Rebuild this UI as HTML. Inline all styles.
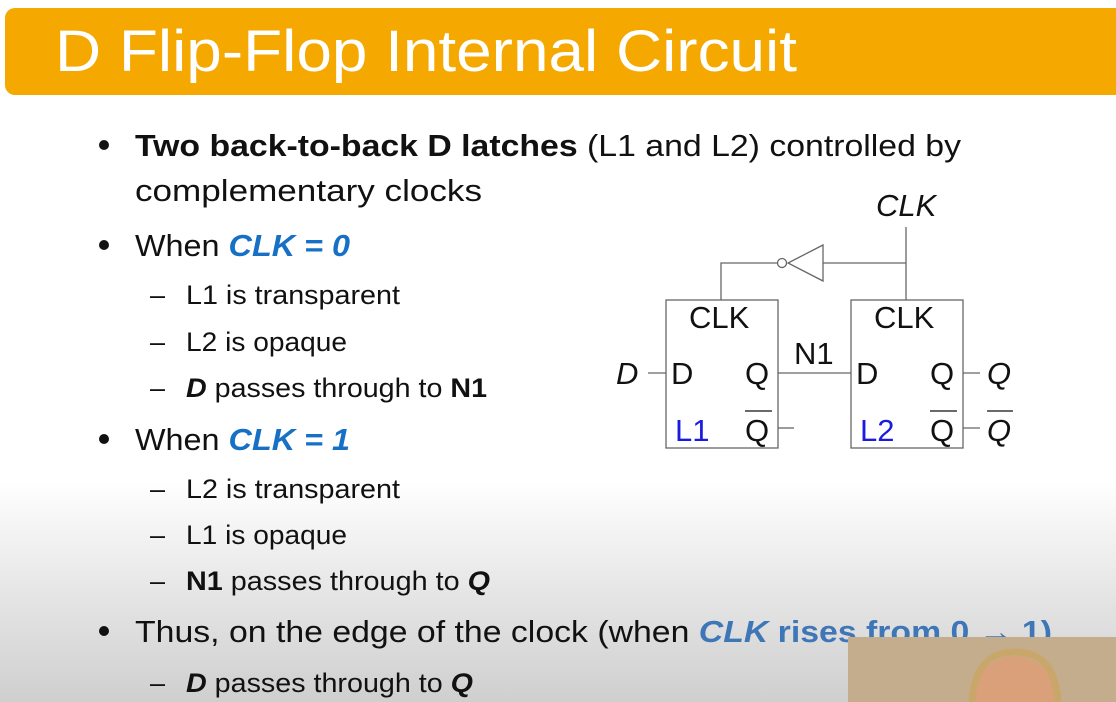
<!DOCTYPE html>
<html><head><meta charset="utf-8"><style>
html,body{margin:0;padding:0;width:1116px;height:702px;overflow:hidden}
body{background:linear-gradient(#fff 0px,#fff 480px,#e4e4e4 600px,#cfcfcf 702px)}
svg{position:absolute;left:0;top:0;display:block}
</style></head><body>
<svg width="1116" height="702" viewBox="0 0 1116 702" font-family="Liberation Sans, sans-serif">
<rect x="5" y="8" width="1125" height="87" rx="10" fill="#f5a800"/>
<text x="55" y="71" font-size="58" fill="#fff" textLength="742" lengthAdjust="spacingAndGlyphs">D Flip-Flop Internal Circuit</text>

<g font-size="31" fill="#111">
<circle cx="104" cy="145" r="5"/>
<text x="135" y="156" textLength="826" lengthAdjust="spacingAndGlyphs"><tspan font-weight="bold">Two back-to-back D latches</tspan> (L1 and L2) controlled by</text>
<text x="135" y="201" textLength="347" lengthAdjust="spacingAndGlyphs">complementary clocks</text>
<circle cx="104" cy="245" r="5"/>
<text x="135" y="256" textLength="215" lengthAdjust="spacingAndGlyphs">When <tspan fill="#1570c6" font-weight="bold" font-style="italic">CLK = 0</tspan></text>
<circle cx="104" cy="439" r="5"/>
<text x="135" y="450" textLength="215" lengthAdjust="spacingAndGlyphs">When <tspan fill="#1570c6" font-weight="bold" font-style="italic">CLK = 1</tspan></text>
<circle cx="104" cy="631" r="5"/>
<text x="135" y="642" textLength="917" lengthAdjust="spacingAndGlyphs">Thus, on the edge of the clock (when <tspan fill="#3e76b8" font-weight="bold"><tspan font-style="italic">CLK</tspan> rises from 0 → 1)</tspan></text>
</g>
<g font-size="27" fill="#111">
<text x="150" y="304">–</text><text x="186" y="304" textLength="214" lengthAdjust="spacingAndGlyphs">L1 is transparent</text>
<text x="150" y="351">–</text><text x="186" y="351" textLength="161" lengthAdjust="spacingAndGlyphs">L2 is opaque</text>
<text x="150" y="397">–</text><text x="186" y="397" textLength="301" lengthAdjust="spacingAndGlyphs"><tspan font-weight="bold" font-style="italic">D</tspan> passes through to <tspan font-weight="bold">N1</tspan></text>
<text x="150" y="498">–</text><text x="186" y="498" textLength="214" lengthAdjust="spacingAndGlyphs">L2 is transparent</text>
<text x="150" y="544">–</text><text x="186" y="544" textLength="161" lengthAdjust="spacingAndGlyphs">L1 is opaque</text>
<text x="150" y="590">–</text><text x="186" y="590" textLength="304" lengthAdjust="spacingAndGlyphs"><tspan font-weight="bold">N1</tspan> passes through to <tspan font-weight="bold" font-style="italic">Q</tspan></text>
<text x="150" y="692">–</text><text x="186" y="692" textLength="287" lengthAdjust="spacingAndGlyphs"><tspan font-weight="bold" font-style="italic">D</tspan> passes through to <tspan font-weight="bold" font-style="italic">Q</tspan></text>
</g>

<g stroke="#666" stroke-width="1.3" fill="none">
<rect x="666" y="300" width="112" height="148"/>
<rect x="851" y="300" width="112" height="148"/>
<polyline points="906,227 906,300"/>
<polyline points="906,263 823,263"/>
<polygon points="823,245 823,281 788,263"/>
<circle cx="782" cy="263" r="4.5" fill="#fff"/>
<polyline points="777,263 721,263 721,300"/>
<line x1="648" y1="373" x2="666" y2="373"/>
<line x1="778" y1="373" x2="851" y2="373"/>
<line x1="778" y1="428" x2="794" y2="428"/>
<line x1="963" y1="373" x2="980" y2="373"/>
<line x1="963" y1="428" x2="980" y2="428"/>
<line x1="745" y1="411" x2="772" y2="411" stroke="#111"/>
<line x1="930" y1="411" x2="957" y2="411" stroke="#111"/>
<line x1="987" y1="411" x2="1013" y2="411" stroke="#111"/>
</g>
<g font-size="31" fill="#111">
<text x="876" y="216" font-style="italic">CLK</text>
<text x="689" y="328">CLK</text>
<text x="874" y="328">CLK</text>
<text x="616" y="384" font-style="italic">D</text>
<text x="671" y="384">D</text>
<text x="745" y="384">Q</text>
<text x="794" y="364">N1</text>
<text x="856" y="384">D</text>
<text x="930" y="384">Q</text>
<text x="987" y="384" font-style="italic">Q</text>
<text x="745" y="441">Q</text>
<text x="930" y="441">Q</text>
<text x="987" y="441" font-style="italic">Q</text>
<text x="675" y="441" fill="#1a1ae0">L1</text>
<text x="860" y="441" fill="#1a1ae0">L2</text>
</g>

<rect x="848" y="637" width="268" height="65" fill="#c4ad8c"/>
<ellipse cx="1015" cy="702" rx="42" ry="46" fill="#d9a07a"/>
<path d="M972,702 Q975,652 1015,652 Q1055,652 1058,702" fill="none" stroke="#c9a76a" stroke-width="7"/>
</svg>
</body></html>
